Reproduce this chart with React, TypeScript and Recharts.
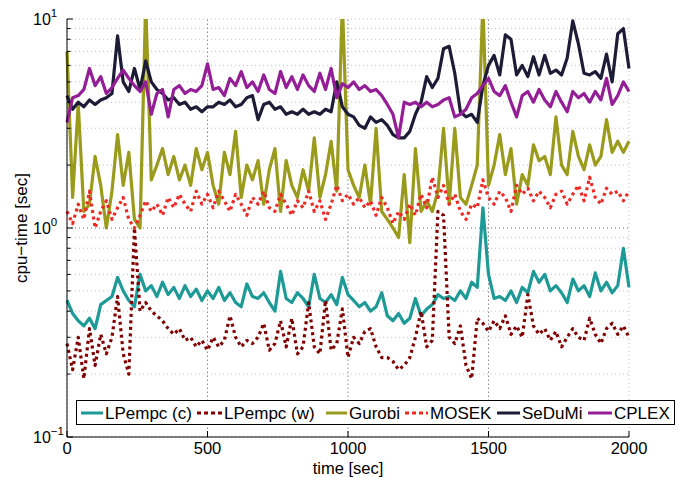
import React from 'react';
import { LineChart, Line, XAxis, YAxis, CartesianGrid, ReferenceLine } from 'recharts';

const FONT = '"Liberation Sans", Arial, Helvetica, sans-serif';

// sampling grid: every 20 s from 0 to 2000 s
const times: number[] = Array.from({ length: 101 }, (_, i) => i * 20);

const lpempcC = [
  0.45, 0.39, 0.36, 0.34, 0.37, 0.33, 0.43, 0.45, 0.47, 0.58, 0.5, 0.45, 0.42, 0.6, 0.5, 0.53, 0.47, 0.55, 0.48, 0.52, 0.46, 0.53, 0.47, 0.51, 0.45, 0.5,
  0.46, 0.52, 0.45, 0.49, 0.44, 0.42, 0.54, 0.47, 0.46, 0.49, 0.44, 0.4, 0.62, 0.46, 0.44, 0.49, 0.46, 0.42, 0.6, 0.46, 0.44, 0.48, 0.43, 0.58, 0.48,
  0.45, 0.42, 0.44, 0.4, 0.42, 0.49, 0.38, 0.36, 0.39, 0.35, 0.37, 0.46, 0.38, 0.41, 0.43, 0.48, 0.46, 0.47, 0.45, 0.5, 0.46, 0.55, 0.52, 1.25, 0.6,
  0.46, 0.47, 0.45, 0.5, 0.44, 0.52, 0.49, 0.62, 0.55, 0.6, 0.5, 0.53, 0.49, 0.44, 0.57, 0.5, 0.53, 0.47, 0.61, 0.5, 0.55, 0.49, 0.53, 0.8, 0.52,
];

const lpempcW = [
  0.28, 0.21, 0.3, 0.19, 0.33, 0.22, 0.31, 0.25, 0.3, 0.47, 0.25, 0.2, 1.0, 0.4, 0.44, 0.4, 0.38, 0.36, 0.33, 0.31, 0.33, 0.29, 0.3, 0.27, 0.29, 0.26,
  0.3, 0.27, 0.29, 0.38, 0.3, 0.27, 0.29, 0.28, 0.3, 0.35, 0.26, 0.28, 0.36, 0.27, 0.37, 0.25, 0.27, 0.44, 0.27, 0.25, 0.45, 0.26, 0.28, 0.41, 0.24,
  0.3, 0.28, 0.32, 0.33, 0.27, 0.24, 0.24, 0.23, 0.21, 0.22, 0.24, 0.3, 0.4, 0.27, 0.29, 1.2, 1.15, 0.3, 0.28, 0.34, 0.22, 0.19, 0.37, 0.35, 0.32,
  0.36, 0.33, 0.38, 0.31, 0.34, 0.3, 0.48, 0.34, 0.31, 0.33, 0.29, 0.32, 0.27, 0.3, 0.33, 0.3, 0.29, 0.37, 0.31, 0.28, 0.33, 0.35, 0.31, 0.34, 0.3,
];

const gurobi = [
  7.0, 1.4, 3.9, 1.2, 1.3, 2.2, 1.6, 1.0, 1.5, 2.8, 1.6, 2.3, 1.1, 1.0, 12, 1.7, 2.0, 2.4, 1.8, 2.2, 1.7, 2.0, 1.6, 2.4, 1.9, 2.3,
  1.6, 1.3, 2.3, 1.8, 2.9, 1.4, 2.0, 1.7, 2.1, 1.3, 1.9, 2.4, 1.2, 2.1, 1.6, 1.4, 1.9, 1.5, 2.7, 1.4, 1.8, 2.6, 1.5, 12, 1.9,
  1.6, 1.4, 2.0, 1.3, 3.0, 1.2, 1.1, 1.0, 0.9, 1.8, 0.85, 2.4, 1.2, 1.35, 1.2, 1.5, 3.0, 1.3, 3.0, 1.4, 1.3, 1.6, 2.0, 12, 1.6,
  2.0, 2.8, 1.8, 2.4, 1.3, 1.8, 1.6, 2.5, 2.1, 2.2, 1.8, 3.4, 2.0, 1.8, 2.9, 2.2, 1.9, 2.5, 2.0, 2.2, 3.3, 2.3, 2.6, 2.3, 2.6,
];

const mosek = [
  1.2, 1.05, 1.3, 1.1, 1.5, 1.0, 1.2, 1.35, 1.1, 1.25, 1.4, 1.1, 1.0, 1.15, 1.35, 1.2, 1.3, 1.15, 1.4, 1.25, 1.45, 1.3, 1.2, 1.5, 1.3, 1.45,
  1.25, 1.5, 1.35, 1.2, 1.45, 1.3, 1.15, 1.4, 1.3, 1.5, 1.25, 1.2, 1.45, 1.3, 1.15, 1.35, 1.25, 1.5, 1.2, 1.35, 1.1, 1.3, 1.6, 1.35, 1.45,
  1.3, 1.4, 1.25, 1.35, 1.15, 1.4, 1.25, 1.05, 1.2, 1.1, 1.3, 1.15, 1.45, 1.25, 1.75, 1.4, 1.6, 1.3, 1.45, 1.2, 1.1, 1.3, 1.25, 1.7, 1.4,
  1.3, 1.5, 1.4, 1.2, 1.6, 1.45, 1.55, 1.35, 1.5, 1.4, 1.25, 1.45, 1.5, 1.3, 1.45, 1.6, 1.35, 1.75, 1.4, 1.3, 1.55, 1.45, 1.5, 1.35, 1.5,
];

const sedumi = [
  4.3, 3.7, 4.0, 3.8, 4.1, 3.9, 4.1, 4.2, 4.4, 8.3, 5.0, 4.5, 5.8, 4.6, 6.3, 5.0, 4.6, 4.4, 4.1, 4.2, 3.9, 4.0, 3.7, 3.8, 3.6, 3.8,
  3.8, 4.0, 3.9, 4.1, 3.8, 3.9, 4.2, 4.3, 3.3, 3.9, 4.0, 3.7, 3.8, 3.5, 3.6, 3.5, 3.7, 3.5, 3.6, 3.5, 3.7, 3.6, 5.0, 3.8, 3.5,
  3.4, 3.1, 3.0, 3.4, 3.2, 3.3, 3.1, 2.8, 2.7, 2.7, 2.9, 3.5, 4.0, 5.3, 4.7, 5.2, 7.2, 7.4, 5.5, 3.6, 3.4, 3.5, 3.2, 4.8, 6.0,
  6.7, 5.4, 8.4, 8.0, 5.4, 6.0, 5.3, 6.6, 5.4, 6.7, 5.5, 5.7, 5.4, 6.5, 9.8, 7.6, 5.5, 5.4, 5.6, 5.2, 6.8, 5.0, 8.5, 9.0, 5.8,
];

const cplex = [
  3.2, 4.2, 4.3, 4.6, 5.8, 4.8, 5.3, 4.4, 4.7, 5.2, 5.7, 5.2, 4.8, 4.5, 5.0, 3.5, 4.4, 4.6, 3.4, 4.6, 4.8, 4.4, 4.6, 4.5, 4.8, 6.1,
  4.6, 4.7, 4.3, 5.2, 4.8, 5.6, 4.7, 5.0, 4.5, 5.4, 4.6, 4.4, 5.6, 4.7, 5.3, 4.6, 5.4, 4.8, 4.5, 5.5, 4.6, 5.8, 4.2, 4.9, 4.7,
  5.0, 4.6, 4.8, 4.5, 4.6, 4.3, 3.9, 3.5, 2.7, 4.0, 3.9, 4.0, 3.8, 4.0, 3.8, 3.9, 4.1, 4.2, 3.4, 3.5, 3.7, 4.2, 4.4, 4.8, 5.2,
  4.5, 4.3, 4.8, 4.0, 3.4, 4.3, 4.5, 4.0, 4.6, 4.1, 3.8, 4.5, 4.0, 3.6, 4.5, 4.2, 4.4, 4.0, 4.5, 4.1, 5.2, 3.9, 4.3, 5.0, 4.5,
];

const xTicks = [0, 500, 1000, 1500, 2000];
const yTicks = [0.1, 0.2, 0.3, 0.4, 0.5, 0.6, 0.7, 0.8, 0.9, 1, 2, 3, 4, 5, 6, 7, 8, 9, 10];
const yMajor: Record<string, string> = { '0.1': '\u22121', '1': '0', '10': '1' };

const series = [
  { key: 'lpc', name: 'LPempc (c)', color: '#1e9a96', dash: undefined as string | undefined, values: lpempcC },
  { key: 'lpw', name: 'LPempc (w)', color: '#800000', dash: '3 3.5', values: lpempcW },
  { key: 'gur', name: 'Gurobi', color: '#9a9a1c', dash: undefined, values: gurobi },
  { key: 'mos', name: 'MOSEK', color: '#ee2a24', dash: '3 3.5', values: mosek },
  { key: 'sed', name: 'SeDuMi', color: '#1c1c36', dash: undefined, values: sedumi },
  { key: 'cpl', name: 'CPLEX', color: '#941e96', dash: undefined, values: cplex },
];

const data = times.map((t, i) => {
  const row: Record<string, number> = { t };
  series.forEach((s) => { row[s.key] = s.values[i]; });
  return row;
});

const isMajor = (v: number) => yMajor[String(v)] !== undefined;

const BottomTick = (p: any) => {
  const { x, y, payload } = p;
  return (
    <g>
      <line x1={x} x2={x} y1={y} y2={y - 6} stroke="#000" />
      <text x={x} y={y + 17} textAnchor="middle" fontSize={16.5} fontFamily={FONT} fill="#000">{payload.value}</text>
    </g>
  );
};

const TopTick = (p: any) => {
  const { x, y } = p;
  return <line x1={x} x2={x} y1={y} y2={y + 6} stroke="#000" />;
};

const LeftTick = (p: any) => {
  const { x, y, payload } = p;
  const v = payload.value;
  const major = isMajor(v);
  const len = major ? 6 : 3.5;
  return (
    <g>
      <line x1={x} x2={x + len} y1={y} y2={y} stroke="#000" />
      {major && (
        <text x={x - 34} y={y + 6} fontSize={16} fontFamily={FONT} fill="#000">
          10
          <tspan dy={-8} fontSize={11.5}>{yMajor[String(v)]}</tspan>
        </text>
      )}
    </g>
  );
};

const RightTick = (p: any) => {
  const { x, y, payload } = p;
  const len = isMajor(payload.value) ? 6 : 3.5;
  return <line x1={x} x2={x - len} y1={y} y2={y} stroke="#000" />;
};

const XTitle = () => (
  <text x={348} y={474} textAnchor="middle" fontSize={16.5} fontFamily={FONT} fill="#000">time [sec]</text>
);

const YTitle = () => (
  <text x={27} y={228} transform="rotate(-90 27 228)" textAnchor="middle" fontSize={17} fontFamily={FONT} fill="#000">
    cpu{'\u2212'}time [sec]
  </text>
);

const legendItems = [
  { x1: 81, x2: 103, tx: 105 },
  { x1: 197, x2: 222, tx: 224 },
  { x1: 326, x2: 347, tx: 349 },
  { x1: 405, x2: 428, tx: 430 },
  { x1: 497, x2: 520, tx: 522 },
  { x1: 588, x2: 612, tx: 614 },
];

const LegendBox = () => (
  <div
    style={{
      position: 'absolute', left: 76, top: 400, width: 599, height: 25,
      border: '1px solid #000', background: '#fff', boxSizing: 'border-box',
    }}
  >
    <svg width={597} height={23} style={{ position: 'absolute', left: 0, top: 0 }}>
      {series.map((s, i) => {
        const it = legendItems[i];
        return (
          <g key={s.key}>
            <line x1={it.x1 - 77} x2={it.x2 - 77} y1={12} y2={12} stroke={s.color} strokeWidth={3} strokeDasharray={s.dash ? '4 3' : undefined} />
            <text x={it.tx - 77} y={18} fontSize={17} fontFamily={FONT} fill="#000">{s.name}</text>
          </g>
        );
      })}
    </svg>
  </div>
);

export default function App() {
  return (
    <div style={{ position: 'absolute', left: 0, top: 0, width: 697, height: 477, background: '#fff' }}>
      <LineChart width={697} height={477} data={data} margin={{ top: 19, right: 68, bottom: 0, left: 0 }}>
        <CartesianGrid stroke="#c4c4c4" strokeDasharray="1 3" />
        <XAxis
          dataKey="t" type="number" domain={[0, 2000]} ticks={xTicks} interval={0}
          height={40} tickSize={0} tickMargin={0} tickLine={false}
          axisLine={{ stroke: '#000' }} tick={<BottomTick />} label={<XTitle />}
        />
        <XAxis
          xAxisId="top" orientation="top" dataKey="t" type="number" domain={[0, 2000]} ticks={xTicks} interval={0}
          height={0} tickSize={0} tickMargin={0} tickLine={false}
          axisLine={{ stroke: '#000' }} tick={<TopTick />}
        />
        <YAxis
          type="number" scale="log" domain={[0.1, 10]} allowDataOverflow ticks={yTicks} interval={0}
          width={67} tickSize={0} tickMargin={0} tickLine={false}
          axisLine={{ stroke: '#000' }} tick={<LeftTick />} label={<YTitle />}
        />
        <YAxis
          yAxisId="right" orientation="right" type="number" scale="log" domain={[0.1, 10]} allowDataOverflow ticks={yTicks} interval={0}
          width={0} tickSize={0} tickMargin={0} tickLine={false}
          axisLine={{ stroke: '#000' }} tick={<RightTick />}
        />
        <ReferenceLine y={1} stroke="#8a8a8a" strokeDasharray="1 3" />
        <ReferenceLine x={500} stroke="#8a8a8a" strokeDasharray="1 3" />
        <ReferenceLine x={1000} stroke="#8a8a8a" strokeDasharray="1 3" />
        <ReferenceLine x={1500} stroke="#8a8a8a" strokeDasharray="1 3" />
        {series.map((s) => (
          <Line
            key={s.key} dataKey={s.key} name={s.name} type="linear" stroke={s.color}
            strokeWidth={3.2} strokeDasharray={s.dash} dot={false} activeDot={false}
            isAnimationActive={false} strokeLinejoin="round"
          />
        ))}
      </LineChart>
      <LegendBox />
    </div>
  );
}
